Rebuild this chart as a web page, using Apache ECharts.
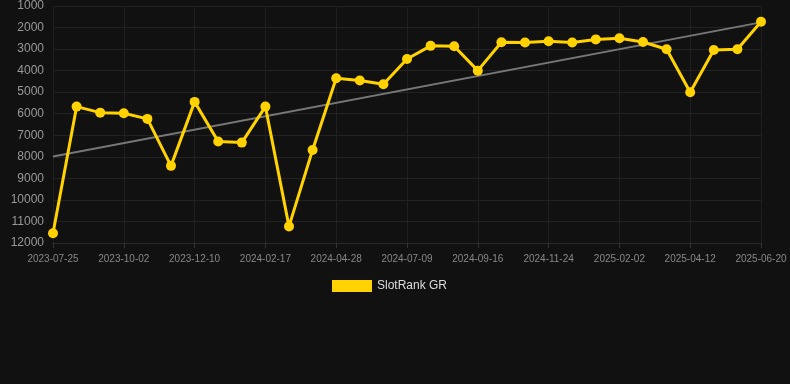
<!DOCTYPE html>
<html>
<head>
<meta charset="utf-8">
<script src="https://cdn.jsdelivr.net/npm/echarts@6/dist/echarts.min.js"></script>
<style>
  html, body { margin: 0; padding: 0; background: #111111; }
  #chart { width: 790px; height: 384px; }
</style>
</head>
<body>
<div id="chart"></div>
<script>
// dates of each rank snapshot
var dates = [
    '2023-07-25', '2023-08-17', '2023-09-09', '2023-10-02', '2023-10-25', '2023-11-17',
    '2023-12-10', '2024-01-02', '2024-01-25', '2024-02-17', '2024-03-11', '2024-04-04',
    '2024-04-28', '2024-05-22', '2024-06-15', '2024-07-09', '2024-08-01', '2024-08-24',
    '2024-09-16', '2024-10-09', '2024-11-01', '2024-11-24', '2024-12-17', '2025-01-09',
    '2025-02-02', '2025-02-25', '2025-03-20', '2025-04-12', '2025-05-05', '2025-05-28',
    '2025-06-20'
];

// rank values (lower is better)
var ranks = [
    11550, 5670, 5950, 5980, 6240, 8420,
    5450, 7290, 7340, 5670, 11230, 7680,
    4350, 4460, 4630, 3460, 2850, 2870,
    4000, 2680, 2690, 2640, 2690, 2550,
    2500, 2670, 3010, 5000, 3040, 3010,
    1730
];

// trend line end points [index, value]
var trend = [[0, 7990], [30, 1760]];

var yTicks = { min: 1000, max: 12000, step: 1000 };

var chart = echarts.init(document.getElementById('chart'));

var option = {
    backgroundColor: '#111111',
    animation: false,
    grid: {
        left: 53,
        right: 29,
        top: 6,
        bottom: 141
    },
    legend: {
        data: ['SlotRank GR'],
        top: 275,
        left: 327,
        icon: 'rect',
        itemWidth: 40,
        itemHeight: 12,
        itemGap: 6,
        textStyle: { color: '#dddddd', fontSize: 12, fontFamily: 'Liberation Sans, Arial, sans-serif' }
    },
    xAxis: {
        type: 'category',
        data: dates,
        boundaryGap: false,
        axisLine: { lineStyle: { color: '#2a2a2a' } },
        axisTick: { show: true, interval: 2, alignWithLabel: true, lineStyle: { color: '#333333' } },
        axisLabel: {
            interval: 2,
            color: '#888888',
            fontSize: 10,
            margin: 11,
            fontFamily: 'Liberation Sans, Arial, sans-serif'
        },
        splitLine: { show: true, interval: 2, lineStyle: { color: '#1f1f1f' } }
    },
    yAxis: {
        type: 'value',
        inverse: true,
        min: yTicks.min,
        max: yTicks.max,
        interval: yTicks.step,
        axisLine: { show: false },
        axisTick: { show: false },
        axisLabel: {
            color: '#999999',
            fontSize: 12,
            margin: 9,
            fontFamily: 'Liberation Sans, Arial, sans-serif',
            formatter: function (v) { return String(v); }
        },
        splitLine: { lineStyle: { color: '#222222' } }
    },
    series: [{
        name: 'SlotRank GR',
        type: 'line',
        data: ranks,
        symbol: 'circle',
        symbolSize: 10,
        itemStyle: { color: '#ffd200' },
        lineStyle: { color: '#ffd200', width: 3 },
        z: 3
    }, {
        name: 'trend',
        type: 'line',
        data: trend,
        symbol: 'none',
        lineStyle: { color: '#777777', width: 2 },
        z: 2
    }]
};

chart.setOption(option);
</script>
</body>
</html>
